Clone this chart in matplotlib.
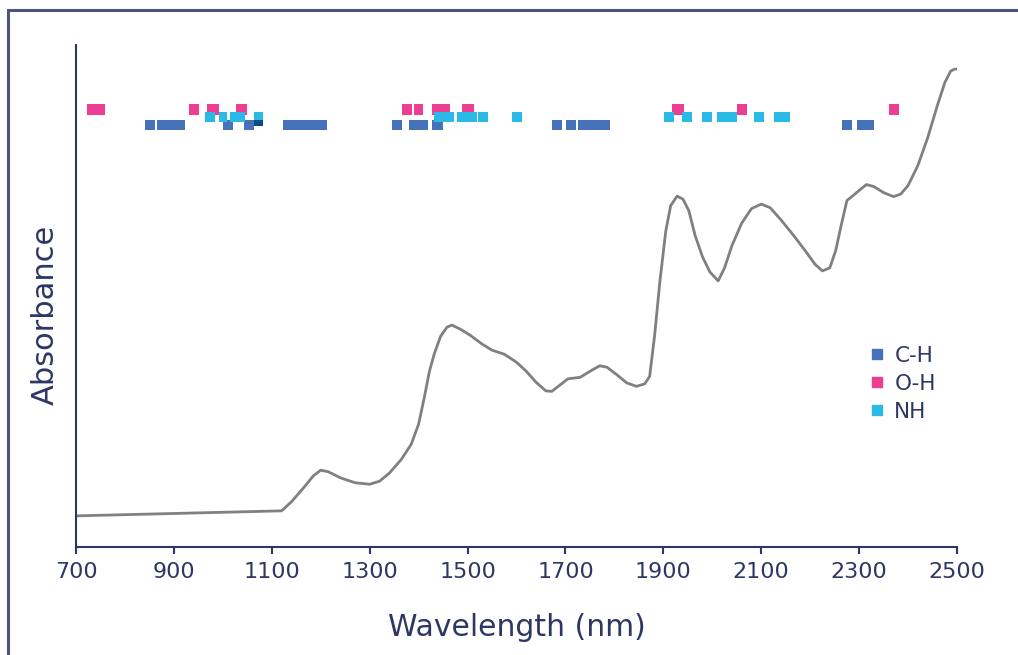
import numpy as np
import matplotlib.pyplot as plt
from matplotlib.patches import Rectangle
from matplotlib.lines import Line2D

# spectrum (absorbance in arbitrary units)
wavelength = [700, 1120, 1140, 1165, 1185, 1200, 1215, 1240, 1270, 1300,
              1320, 1340, 1365, 1385, 1400, 1412, 1422, 1432, 1445, 1458,
              1468, 1485, 1505, 1530, 1550, 1575, 1600, 1620, 1640, 1660,
              1672, 1688, 1705, 1730, 1750, 1770, 1785, 1805, 1825, 1845,
              1862, 1872, 1882, 1893, 1905, 1915, 1928, 1940, 1952, 1965,
              1980, 1995, 2012, 2025, 2040, 2060, 2080, 2100, 2118, 2140,
              2165, 2190, 2210, 2225, 2240, 2252, 2262, 2275, 2290, 2302,
              2315, 2330, 2350, 2370, 2385, 2400, 2420, 2440, 2460, 2475,
              2487, 2495, 2500]
absorbance = [0.062, 0.072, 0.090, 0.118, 0.142, 0.153, 0.150, 0.138, 0.128, 0.125,
              0.131, 0.147, 0.175, 0.205, 0.245, 0.300, 0.350, 0.385, 0.420, 0.438,
              0.442, 0.434, 0.422, 0.404, 0.392, 0.384, 0.368, 0.350, 0.328, 0.311,
              0.310, 0.322, 0.335, 0.338, 0.350, 0.361, 0.358, 0.343, 0.327, 0.320,
              0.325, 0.340, 0.420, 0.530, 0.630, 0.680, 0.699, 0.693, 0.670, 0.620,
              0.578, 0.548, 0.530, 0.556, 0.600, 0.645, 0.674, 0.683, 0.676, 0.652,
              0.622, 0.590, 0.563, 0.550, 0.556, 0.590, 0.635, 0.690, 0.702, 0.712,
              0.722, 0.718, 0.706, 0.698, 0.703, 0.720, 0.760, 0.815, 0.880, 0.925,
              0.948, 0.952, 0.952]

# band assignments (start, end) in nm
ch_bands = [(841, 861), (865, 923), (1000, 1021), (1043, 1064), (1123, 1213),
            (1346, 1366), (1380, 1419), (1427, 1450), (1672, 1693), (1701, 1722),
            (1726, 1791), (2265, 2285), (2296, 2330)]
oh_bands = [(722, 759), (931, 951), (968, 992), (1027, 1049), (1366, 1386),
            (1391, 1409), (1427, 1464), (1489, 1513), (1918, 1942), (2050, 2071),
            (2361, 2381)]
nh_bands = [(964, 984), (992, 1008), (1015, 1045), (1064, 1082), (1431, 1472),
            (1478, 1499), (1499, 1519), (1521, 1542), (1591, 1611), (1901, 1922),
            (1938, 1958), (1979, 1999), (2010, 2050), (2085, 2106), (2126, 2159)]
overlap_band = [(1064, 1082)]

xticks = [700, 900, 1100, 1300, 1500, 1700, 1900, 2100, 2300, 2500]

c_ch = "#4572b8"
c_oh = "#ec3f94"
c_nh = "#2bbae5"
navy = "#2e3664"

plt.rcParams["font.family"] = ["DejaVu Sans"]

fig = plt.figure(figsize=(10.18, 6.55), dpi=100)
ax = fig.add_axes([0.0747, 0.1649, 0.8654, 0.7664])

ax.plot(wavelength, absorbance, color="#808080", lw=2.0,
        solid_joinstyle="round", solid_capstyle="round")

h = 0.021
def draw_bands(bands, yc, color):
    for s, e in bands:
        ax.barh(yc, e - s, left=s, height=h, color=color, edgecolor="none")

draw_bands(ch_bands, 0.841, c_ch)
draw_bands(oh_bands, 0.8715, c_oh)
draw_bands(nh_bands, 0.857, c_nh)
for s, e in overlap_band:
    ax.barh(0.845, e - s, left=s, height=0.013, color="#0b4a86", edgecolor="none")

ax.set_xlim(700, 2500)
ax.set_ylim(0, 1.0)
ax.set_xticks(xticks)
ax.set_yticks([])
for sp in ["top", "right"]:
    ax.spines[sp].set_visible(False)
for sp in ["left", "bottom"]:
    ax.spines[sp].set_color(navy)
    ax.spines[sp].set_linewidth(1.5)
ax.tick_params(axis="x", length=5, width=1.5, color=navy, labelcolor=navy,
               labelsize=16, pad=6)

ax.set_xlabel("Wavelength (nm)", fontsize=21.5, color=navy, labelpad=22)
ax.set_ylabel("Absorbance", fontsize=22, color=navy)
ax.yaxis.set_label_coords(-0.018, 0.462)

handles = [Line2D([], [], ls="none", marker="s", ms=6.5, color=c)
           for c in (c_ch, c_oh, c_nh)]
ax.legend(handles, ["C-H", "O-H", "NH"], loc="center left",
          bbox_to_anchor=(0.902, 0.325), frameon=False, fontsize=15.5,
          labelcolor=navy, handlelength=0.6, handletextpad=0.5,
          labelspacing=0.37, borderpad=0, borderaxespad=0)

fig.patches.append(Rectangle((8 / 1018, -0.05), 1.1, 1.05 - 10 / 655,
                             transform=fig.transFigure, fill=False,
                             edgecolor="#4d5380", lw=2.2))

fig.savefig("out.png", dpi=100)
